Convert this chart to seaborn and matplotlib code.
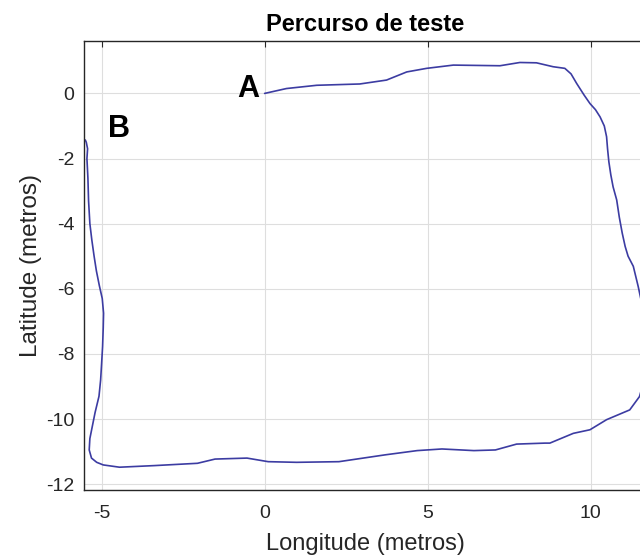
import matplotlib
matplotlib.use("Agg")
import matplotlib.pyplot as plt
import seaborn as sns
import pandas as pd

# Test route, in metres relative to the start point A (longitude east, latitude north)
longitude = [
    0.00, 0.67, 1.60, 2.92, 3.74, 4.36, 4.97, 5.79, 7.22, 7.83, 8.34, 8.85, 9.21,
    9.40, 9.57, 9.80, 9.98, 10.15, 10.29, 10.42, 10.49, 10.52, 10.56, 10.62, 10.69,
    10.80, 10.88, 10.97, 11.06, 11.15, 11.31, 11.46,
    11.56, 11.64, 11.68, 11.66, 11.60, 11.50, 11.20, 10.49, 9.98, 9.47, 8.75,
    8.60, 7.73, 7.08, 6.42, 5.44, 4.68, 3.70, 2.28, 0.98, 0.11, -0.54, -1.52,
    -2.06, -3.37, -4.45, -4.95, -5.15, -5.31, -5.38, -5.36, -5.28, -5.20, -5.08,
    -5.03, -5.00, -4.97, -4.95, -4.94, -4.98, -5.07, -5.16, -5.23, -5.30, -5.36,
    -5.40, -5.42, -5.45, -5.43, -5.47, -5.50,
]
latitude = [
    0.00, 0.15, 0.25, 0.29, 0.41, 0.66, 0.77, 0.87, 0.85, 0.95, 0.94, 0.82, 0.77,
    0.60, 0.31, -0.05, -0.31, -0.50, -0.72, -1.00, -1.33, -1.70, -2.10, -2.50, -2.87,
    -3.27, -3.80, -4.29, -4.70, -5.00, -5.31, -5.93,
    -6.40, -7.00, -7.70, -8.40, -8.95, -9.31, -9.72, -10.02, -10.33, -10.44, -10.74,
    -10.74, -10.77, -10.95, -10.97, -10.92, -10.97, -11.10, -11.31, -11.33, -11.31,
    -11.20, -11.23, -11.36, -11.43, -11.48, -11.41, -11.33, -11.20, -10.95, -10.60,
    -10.20, -9.80, -9.30, -8.80, -8.30, -7.78, -7.20, -6.75, -6.30, -5.90, -5.45,
    -5.00, -4.50, -4.00, -3.30, -2.60, -2.00, -1.70, -1.50, -1.43,
]
route = pd.DataFrame({"Longitude": longitude, "Latitude": latitude})

x_ticks = [-5, 0, 5, 10]
y_ticks = [-12, -10, -8, -6, -4, -2, 0]

sns.set_style("white")
plt.rcParams["font.family"] = ["Liberation Sans", "DejaVu Sans"]

ink = "#262626"
fig = plt.figure(figsize=(6.4, 5.59), dpi=100)
# axes box ends just past the right edge of the canvas
ax = fig.add_axes([84 / 640, 69 / 559, 563 / 640, 449 / 559])

sns.lineplot(data=route, x="Longitude", y="Latitude", sort=False, estimator=None,
             color="#3c3ca2", linewidth=1.2, ax=ax)

ax.set_xlim(-5.54, 11.73)
ax.set_ylim(-12.18, 1.61)
ax.set_xticks(x_ticks)
ax.set_yticks(y_ticks)
ax.set_xticklabels([str(v) for v in x_ticks])
ax.set_yticklabels([str(v) for v in y_ticks])

ax.grid(True, color="#dedede", linewidth=0.8)
ax.set_axisbelow(True)
for side in ("left", "bottom", "top", "right"):
    ax.spines[side].set_visible(True)
    ax.spines[side].set_color(ink)
    ax.spines[side].set_linewidth(1.0)

ax.tick_params(axis="both", direction="in", length=4, width=0.8, color=ink,
               labelcolor=ink, labelsize=14, top=True, right=True)
ax.tick_params(axis="x", pad=11)
ax.tick_params(axis="y", pad=7)

ax.set_xlabel("Longitude (metros)", fontsize=17, color=ink, labelpad=8)
ax.set_ylabel("Latitude (metros)", fontsize=17.5, color=ink, labelpad=3)
ax.set_title("Percurso de teste", fontsize=17, fontweight="bold", color="black", pad=7)

ax.text(-0.15, -0.10, "A", fontsize=22, fontweight="bold", color="black",
        ha="right", va="baseline")
ax.text(-4.80, -1.34, "B", fontsize=22, fontweight="bold", color="black",
        ha="left", va="baseline")

fig.savefig("out.png", dpi=100)
